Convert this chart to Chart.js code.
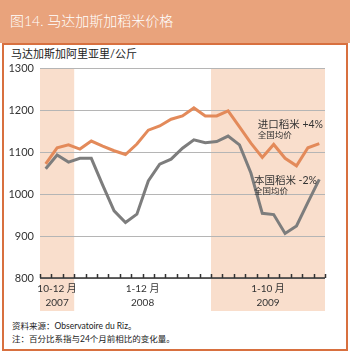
<!DOCTYPE html>
<html>
<head>
<meta charset="utf-8">
<script src="https://cdn.jsdelivr.net/npm/chart.js@4/dist/chart.umd.min.js"></script>
<style>
body { margin: 0; background: #fff; font-family: Lato, "Noto Sans CJK SC", sans-serif; }
#wrap { position: relative; width: 350px; height: 353px; overflow: hidden; }
#head { position: absolute; left: 0; top: 0; width: 350px; height: 43px; background: #E9A37C; }
#title { position: absolute; left: 10px; top: 10px; color: #fff; font-size: 14px; font-weight: 300; }
#box { position: absolute; left: 2px; top: 43px; width: 342px; height: 304px; border: 2px solid #D8703F; }
#unit { position: absolute; left: 11px; top: 45px; font-size: 11px; color: #222; }
#src { position: absolute; left: 12px; top: 320px; font-size: 8.5px; color: #222; line-height: 13px; }
canvas { position: absolute; left: 0; top: 0; }
</style>
</head>
<body>
<div id="wrap">
    <div id="head"><div id="title">图14. 马达加斯加稻米价格</div></div>
    <div id="box"></div>
    <div id="unit">马达加斯加阿里亚里/公斤</div>
    <div id="src">资料来源：Observatoire du Riz。<br>注：百分比系指与24个月前相比的变化量。</div>
    <canvas id="rice" width="350" height="353"></canvas>
</div>
<script>
const months = ['2007-10', '2007-11', '2007-12',
    '2008-01', '2008-02', '2008-03', '2008-04', '2008-05', '2008-06',
    '2008-07', '2008-08', '2008-09', '2008-10', '2008-11', '2008-12',
    '2009-01', '2009-02', '2009-03', '2009-04', '2009-05', '2009-06',
    '2009-07', '2009-08', '2009-09', '2009-10']
const importedRice = [1072, 1110, 1117, 1107, 1126, 1114, 1103, 1094, 1119, 1152, 1162, 1178,
    1186, 1205, 1186, 1186, 1198, 1160, 1121, 1087, 1118, 1085, 1067, 1110, 1120]
const localRice = [1060, 1093, 1076, 1085, 1085, 1021, 960, 932, 952, 1031, 1071, 1083,
    1109, 1129, 1122, 1125, 1138, 1117, 1050, 954, 951, 906, 924, 980, 1035]

const groupLabels = ['10-12 月', '1-12 月', '1-10 月']
const groupYears = ['2007', '2008', '2009']
const groupStart = [0, 3, 15]
const groupEnd = [2, 14, 24]
const shadedGroups = [0, 2]

const importedNote = ['进口稻米 +4%', '全国均价']
const localNote = ['本国稻米 -2%', '全国均价']

const orange = '#E38A5A'
const grey = '#7D7D7D'
const shade = '#F9DECC'
const fontFamily = 'Lato, "Noto Sans CJK SC", sans-serif'

const decor = {
    id: 'decor',
    beforeDraw(chart) {
        const {ctx, chartArea: {top, bottom}, scales: {x}} = chart
        const band = x.getPixelForValue(1) - x.getPixelForValue(0)
        ctx.save()
        ctx.fillStyle = shade
        shadedGroups.forEach(g => {
            const left = x.getPixelForValue(groupStart[g]) - band / 2
            const right = x.getPixelForValue(groupEnd[g]) + band / 2
            ctx.fillRect(left, top, right - left, bottom + 33 - top)
        })
        ctx.restore()
    },
    afterDatasetsDraw(chart) {
        const {ctx, chartArea: {left, right, bottom}, scales: {x, y}} = chart
        const band = x.getPixelForValue(1) - x.getPixelForValue(0)
        ctx.save()

        // axis line and inward ticks
        ctx.strokeStyle = '#333'
        ctx.lineWidth = 1.5
        ctx.beginPath()
        ctx.moveTo(left, bottom)
        ctx.lineTo(right, bottom)
        for (let i = 0; i <= months.length; i++) {
            const px = Math.round(x.getPixelForValue(0) - band / 2 + i * band) + 0.5
            ctx.moveTo(px, bottom)
            ctx.lineTo(px, bottom - 4)
        }
        ctx.stroke()

        // group labels under the axis
        ctx.fillStyle = '#333'
        ctx.textAlign = 'center'
        ctx.textBaseline = 'middle'
        groupLabels.forEach((label, g) => {
            const cx = (x.getPixelForValue(groupStart[g]) + x.getPixelForValue(groupEnd[g])) / 2
            ctx.font = '10px ' + fontFamily
            ctx.fillText(label, cx, bottom + 11)
            ctx.fillText(groupYears[g], cx, bottom + 25)
        })

        // notes next to the line ends
        const last = months.length - 1
        const notes = [
            [importedNote, y.getPixelForValue(importedRice[last]) - 19],
            [localNote, y.getPixelForValue(localRice[last]) + 1]
        ]
        notes.forEach(([note, ny], n) => {
            ctx.font = '10.5px ' + fontFamily
            const w = ctx.measureText(note[0]).width
            const tx = right - (n === 0 ? 2 : 8) - w
            ctx.textAlign = 'left'
            ctx.fillText(note[0], tx, ny)
            ctx.font = '8.5px ' + fontFamily
            ctx.fillText(note[1], tx, ny + 11)
        })
        ctx.restore()
    }
}

const riceChart = new Chart(document.getElementById('rice'), {
    type: 'line',
    data: {
        labels: months,
        datasets: [{
            label: '进口稻米',
            data: importedRice,
            borderColor: orange,
            borderWidth: 3,
            pointRadius: 0,
            tension: 0
        }, {
            label: '本国稻米',
            data: localRice,
            borderColor: grey,
            borderWidth: 3,
            pointRadius: 0,
            tension: 0
        }]
    },
    options: {
        responsive: false,
        animation: false,
        layout: {padding: {top: 68, right: 25, bottom: 0, left: 0}},
        plugins: {legend: {display: false}, tooltip: {enabled: false}},
        scales: {
            x: {
                offset: true,
                grid: {display: false},
                border: {display: false},
                ticks: {display: false},
                afterFit: (scale) => { scale.height = 75 }
            },
            y: {
                min: 800,
                max: 1300,
                border: {display: false},
                grid: {color: '#B5B5B5', lineWidth: 1, drawTicks: false},
                ticks: {
                    stepSize: 100,
                    padding: 6,
                    color: '#333',
                    font: {family: fontFamily, size: 11},
                    callback: (value) => String(value)
                },
                afterFit: (scale) => { scale.width = 40 }
            }
        }
    },
    plugins: [decor]
})
</script>
</body>
</html>
